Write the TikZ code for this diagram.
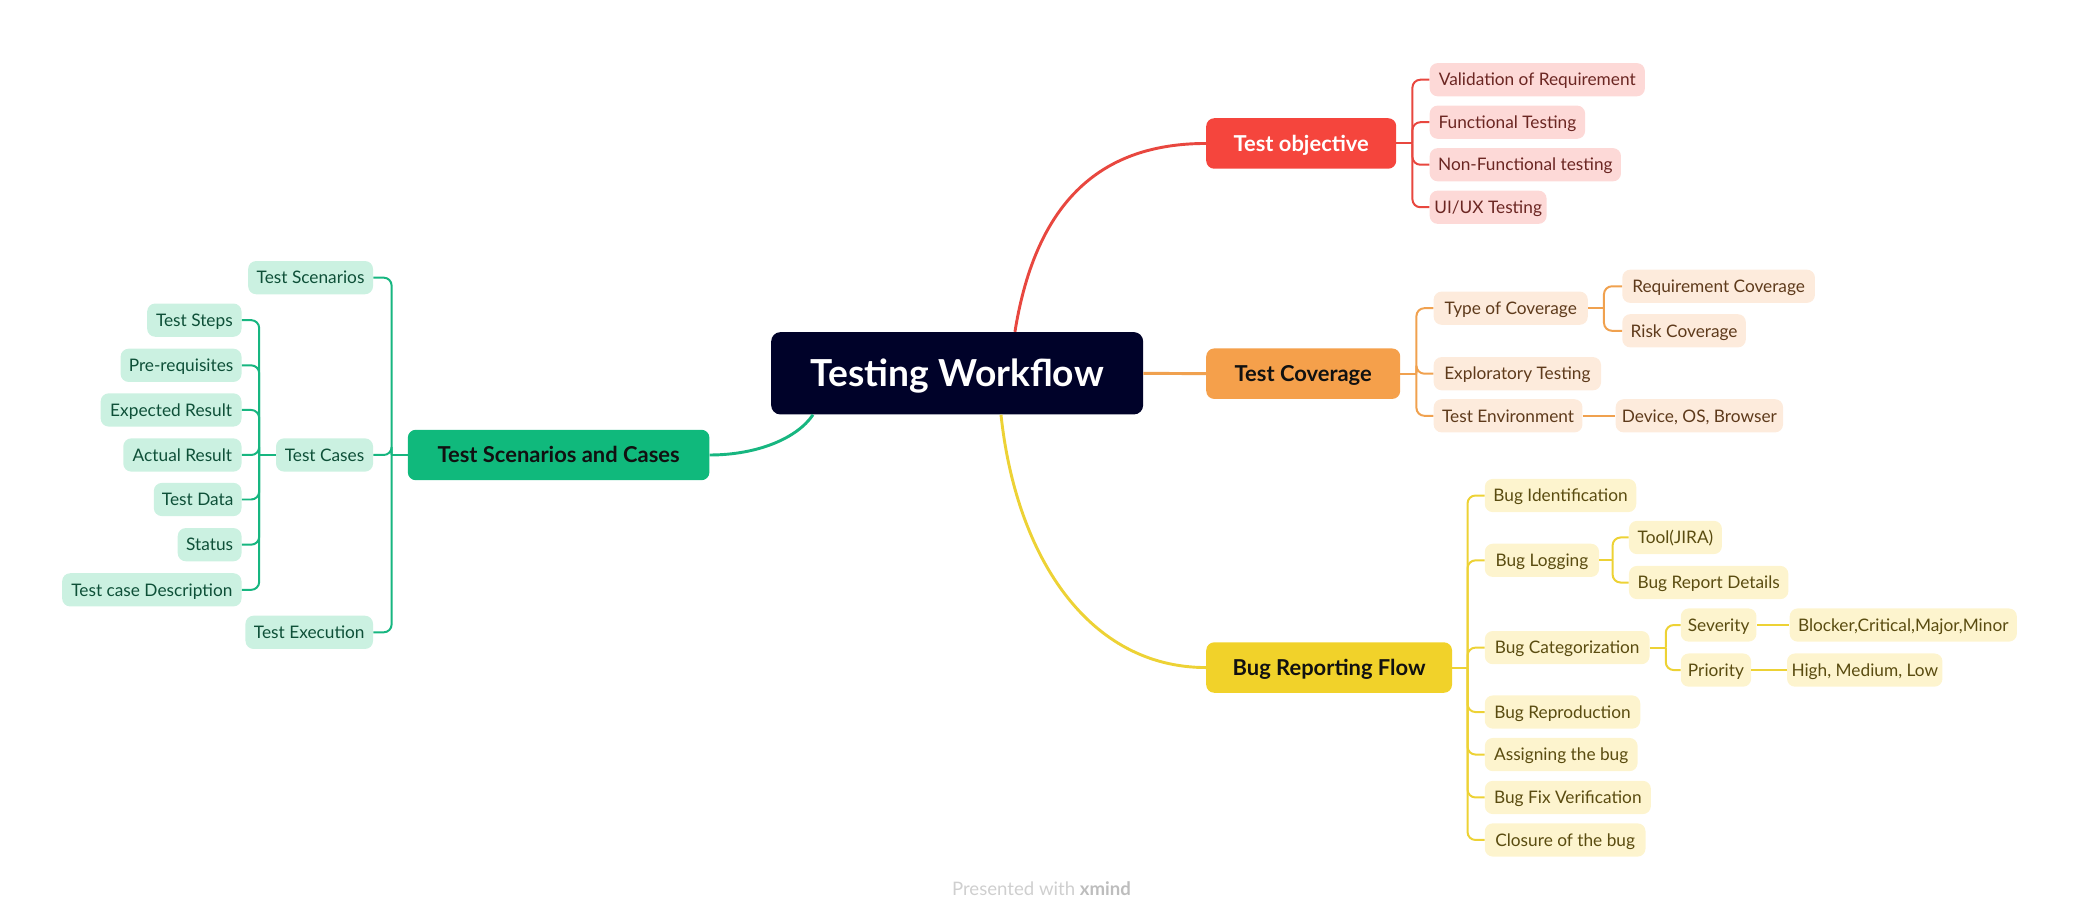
\documentclass[tikz,border=0pt]{standalone}
\usepackage{fontspec}
\setmainfont{Lato}
\usetikzlibrary{calc}
\definecolor{rootC}{HTML}{000229}
\definecolor{redM}{HTML}{F5453D}
\definecolor{redF}{HTML}{FDD9D7}
\definecolor{redL}{HTML}{E8473F}
\definecolor{redT}{HTML}{6B2622}
\definecolor{oraM}{HTML}{F5A04B}
\definecolor{oraF}{HTML}{FDEBDC}
\definecolor{oraL}{HTML}{F0A14F}
\definecolor{oraT}{HTML}{5E3A1B}
\definecolor{yelM}{HTML}{F1D22A}
\definecolor{yelF}{HTML}{FDF4CE}
\definecolor{yelL}{HTML}{EDD235}
\definecolor{yelT}{HTML}{5A4C10}
\definecolor{grnM}{HTML}{10B97C}
\definecolor{grnF}{HTML}{CBF1E1}
\definecolor{grnL}{HTML}{17B680}
\definecolor{grnT}{HTML}{0E5038}
\definecolor{mainT}{HTML}{111111}
\definecolor{wmC}{HTML}{CFCFCF}
\definecolor{wmB}{HTML}{BDBDBD}
\begin{document}
\begin{tikzpicture}[x=1pt,y=-1pt,
  rootbox/.style={fill=rootC,text=white,rounded corners=7pt,minimum width=280pt,minimum height=62pt,inner sep=0pt,text height=20.2pt,text depth=0pt,font=\fontsize{28}{32}\selectfont\bfseries},
  mainbox/.style={rounded corners=6pt,minimum height=38pt,inner sep=0pt,text height=11.9pt,text depth=0pt,text=mainT,font=\fontsize{16.5}{19}\selectfont\bfseries},
  leafbox/.style={rounded corners=6pt,minimum height=25pt,inner xsep=2pt,inner ysep=0pt,text height=9.4pt,text depth=0pt,font=\fontsize{13}{15}\selectfont},
  rleaf/.style={leafbox,anchor=west,fill=redF,text=redT},
  oleaf/.style={leafbox,anchor=west,fill=oraF,text=oraT},
  yleaf/.style={leafbox,anchor=west,fill=yelF,text=yelT},
  gleaf/.style={leafbox,anchor=east,fill=grnF,text=grnT},
  trunk/.style={line width=2.2pt},
  twig/.style={line width=1.5pt,rounded corners=6pt}
]
\useasboundingbox (0,0) rectangle (1568,692.6);

% root and main topics
\node[rootbox] (root) at (720.5,281) {Testing Workflow};
\node[mainbox,fill=redM,text=white,minimum width=143pt] (tobj) at (979.5,108) {Test objective};
\node[mainbox,fill=oraM,minimum width=146pt] (tcov) at (981,281.3) {Test Coverage};
\node[mainbox,fill=yelM,minimum width=185pt] (brf) at (1000.5,502.5) {Bug Reporting Flow};
\node[mainbox,fill=grnM,minimum width=227pt] (tsc) at (420.5,342.5) {Test Scenarios and Cases};

% red leaves
\node[rleaf,minimum width=162pt] (val) at (1076,60) {Validation of Requirement};
\node[rleaf,minimum width=117pt] (fun) at (1076,92) {Functional Testing};
\node[rleaf,minimum width=144pt] (nonf) at (1076,124) {Non-Functional testing};
\node[rleaf,minimum width=88pt] (uiux) at (1076,156) {UI/UX Testing};

% orange leaves
\node[oleaf,minimum width=116pt] (toc) at (1079,232) {Type of Coverage};
\node[oleaf,minimum width=126pt] (expl) at (1079,281.3) {Exploratory Testing};
\node[oleaf,minimum width=112pt] (tenv) at (1079,313) {Test Environment};
\node[oleaf,minimum width=145pt] (reqc) at (1221,215.5) {Requirement Coverage};
\node[oleaf,minimum width=93pt] (risk) at (1221,249) {Risk Coverage};
\node[oleaf,minimum width=126pt] (dev) at (1216,313) {Device, OS, Browser};

% yellow leaves
\node[yleaf,minimum width=114pt] (bid) at (1117.5,373) {Bug Identification};
\node[yleaf,minimum width=86pt] (blog) at (1117.5,421.8) {Bug Logging};
\node[yleaf,minimum width=124pt] (bcat) at (1117.5,487.5) {Bug Categorization};
\node[yleaf,minimum width=117pt] (brep) at (1117.5,536) {Bug Reproduction};
\node[yleaf,minimum width=115pt] (bass) at (1117.5,568) {Assigning the bug};
\node[yleaf,minimum width=125pt] (bfix) at (1117.5,600.3) {Bug Fix Verification};
\node[yleaf,minimum width=121pt] (bclo) at (1117.5,632.3) {Closure of the bug};
\node[yleaf,minimum width=70pt] (tool) at (1226,404.6) {Tool(JIRA)};
\node[yleaf,minimum width=120pt] (brd) at (1226,438.5) {Bug Report Details};
\node[yleaf,minimum width=57pt] (sev) at (1265,470.5) {Severity};
\node[yleaf,minimum width=53pt] (pri) at (1265,504.4) {Priority};
\node[yleaf,minimum width=171pt] (blk) at (1347,470.5) {Blocker,Critical,Major,Minor};
\node[yleaf,minimum width=117pt] (hml) at (1345,504.4) {High, Medium, Low};

% green leaves
\node[gleaf,minimum width=94pt] (tscen) at (281,209) {Test Scenarios};
\node[gleaf,minimum width=73pt] (tcases) at (281,342.5) {Test Cases};
\node[gleaf,minimum width=96pt] (texec) at (281,476) {Test Execution};
\node[gleaf,minimum width=71pt] (tsteps) at (182,241) {Test Steps};
\node[gleaf,minimum width=91pt] (prereq) at (182,275) {Pre-requisites};
\node[gleaf,minimum width=106pt] (expres) at (182,308.6) {Expected Result};
\node[gleaf,minimum width=89pt] (actres) at (182,342.5) {Actual Result};
\node[gleaf,minimum width=66pt] (tdata) at (182,376) {Test Data};
\node[gleaf,minimum width=48pt] (status) at (182,410) {Status};
\node[gleaf,minimum width=135pt] (tcdesc) at (182,444) {Test case Description};

% main branches
\coordinate (rS) at ($(root.north)+(43.5,0)$);
\coordinate (yS) at ($(root.south)+(33,0)$);
\coordinate (gS) at ($(root.south)+(-108.5,0)$);
\draw[trunk,redL] (rS) .. controls (780,150) and (830,108) .. (tobj.west);
\draw[trunk,oraL] (root.east) -- (tcov.west);
\draw[trunk,yelL] (yS) .. controls (765,420) and (820,502.5) .. (brf.west);
\draw[trunk,grnL] (gS) .. controls (600,330) and (570,342.5) .. (tsc.east);

% red brackets
\coordinate (jR) at ($(tobj.east)+(12,0)$);
\draw[twig,redL] (tobj.east) -- (jR);
\foreach \c in {val,fun,nonf,uiux} \draw[twig,redL] (jR) |- (\c.west);

% orange brackets
\coordinate (jO) at ($(tcov.east)+(12,0)$);
\draw[twig,oraL] (tcov.east) -- (jO);
\foreach \c in {toc,expl,tenv} \draw[twig,oraL] (jO) |- (\c.west);
\coordinate (jO2) at ($(toc.east)+(12,0)$);
\draw[twig,oraL] (toc.east) -- (jO2);
\foreach \c in {reqc,risk} \draw[twig,oraL] (jO2) |- (\c.west);
\draw[twig,oraL] (tenv.east) -- (dev.west);

% yellow brackets
\coordinate (jY) at ($(brf.east)+(11.5,0)$);
\draw[twig,yelL] (brf.east) -- (jY);
\foreach \c in {bid,blog,bcat,brep,bass,bfix,bclo} \draw[twig,yelL] (jY) |- (\c.west);
\coordinate (jY2) at ($(blog.east)+(10,0)$);
\draw[twig,yelL] (blog.east) -- (jY2);
\foreach \c in {tool,brd} \draw[twig,yelL] (jY2) |- (\c.west);
\coordinate (jY3) at ($(bcat.east)+(12,0)$);
\draw[twig,yelL] (bcat.east) -- (jY3);
\foreach \c in {sev,pri} \draw[twig,yelL] (jY3) |- (\c.west);
\draw[twig,yelL] (sev.east) -- (blk.west);
\draw[twig,yelL] (pri.east) -- (hml.west);

% green brackets
\coordinate (jG) at ($(tsc.west)+(-12,0)$);
\draw[twig,grnL] (tsc.west) -- (jG);
\foreach \c in {tscen,tcases,texec} \draw[twig,grnL] (jG) |- (\c.east);
\coordinate (jG2) at ($(tcases.west)+(-12.5,0)$);
\draw[twig,grnL] (tcases.west) -- (jG2);
\foreach \c in {tsteps,prereq,expres,actres,tdata,status,tcdesc} \draw[twig,grnL] (jG2) |- (\c.east);

% watermark
\node[font=\fontsize{14}{16}\selectfont,text=wmC] (wm) at (784,668.7) {Presented with \textcolor{wmB}{\bfseries xmind}};
\end{tikzpicture}
\end{document}
